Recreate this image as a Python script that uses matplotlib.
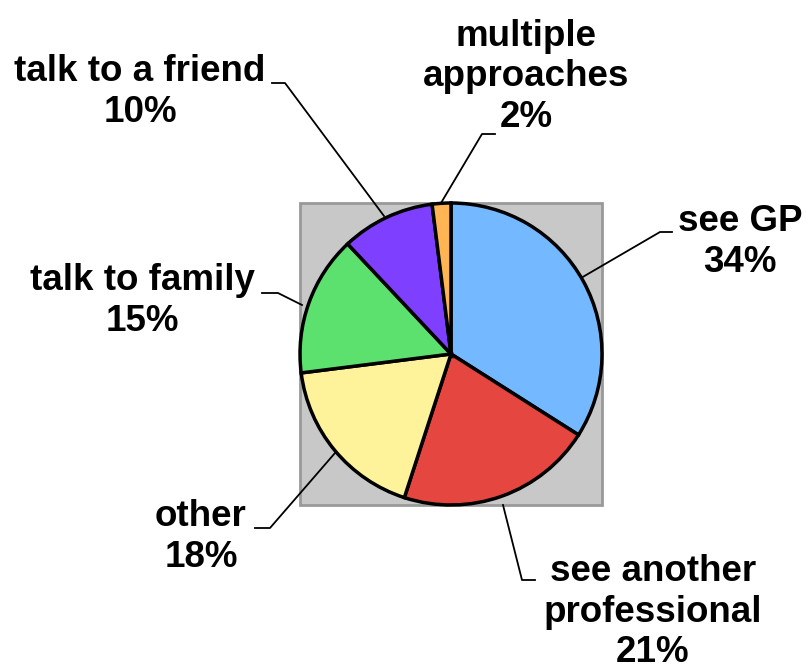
import matplotlib
matplotlib.use('Agg')
import matplotlib.pyplot as plt
from matplotlib.patches import Rectangle

labels = ['see GP', 'see another\nprofessional', 'other', 'talk to family',
          'talk to a friend', 'multiple\napproaches']
shares = [34, 21, 18, 15, 10, 2]
colors = ['#74b9ff', '#e54640', '#fef29b', '#5ce16e', '#7f3fff', '#ffb554']

# label anchor (text centre) and leader path, in pixel coordinates (y down)
text_pos = [(740, 242), (653, 612), (201, 537), (142, 301), (140, 92), (526, 77)]
leaders = [
    [(672, 232), (660, 232), (581, 278)],
    [(535, 580), (522, 580), (503, 505)],
    [(255, 528), (270, 528), (335, 453)],
    [(262, 293), (278, 293), (302, 305)],
    [(272, 83), (285, 83), (384, 216)],
    [(495, 134), (482, 134), (441, 203)],
]

W, H = 806, 670
fig = plt.figure(figsize=(W / 100, H / 100), dpi=100)
ax = fig.add_axes([0, 0, 1, 1])

cx, cy, r = 451, H - 354, 151

# grey plot area behind the pie
ax.add_patch(Rectangle((cx - r, cy - r), 2 * r, 2 * r, facecolor='#c8c8c8',
                       edgecolor='#999999', lw=2, zorder=0))

ax.pie(shares, colors=colors, startangle=90, counterclock=False,
       center=(cx, cy), radius=r, frame=True,
       wedgeprops=dict(edgecolor='black', linewidth=2.5))
ax.set_xlim(0, W)
ax.set_ylim(0, H)
ax.set_aspect('equal')
ax.axis('off')

for lab, val, (tx, ty), path in zip(labels, shares, text_pos, leaders):
    xs = [p[0] for p in path]
    ys = [H - p[1] for p in path]
    ax.plot(xs, ys, color='black', lw=1.3, zorder=3)
    ax.text(tx, H - ty, f'{lab}\n{val}%', ha='center', va='center',
            fontsize=26.5, fontweight='bold', family='Liberation Sans',
            linespacing=1.22)

fig.savefig('out.png', dpi=100)
